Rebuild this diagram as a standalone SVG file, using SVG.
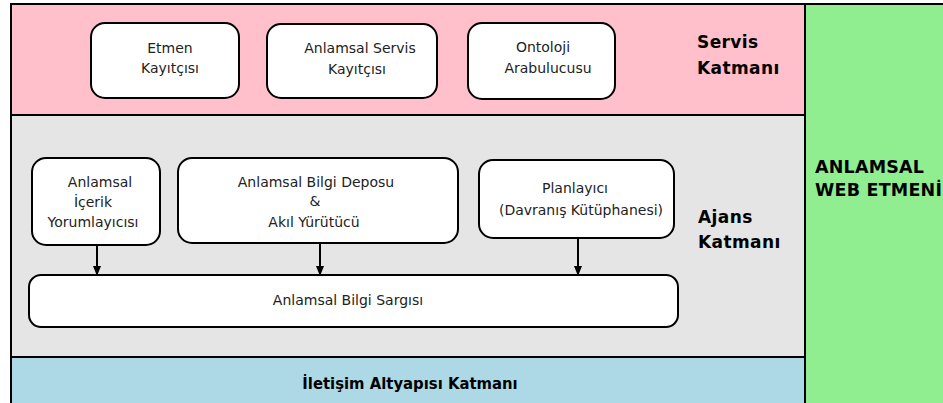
<svg xmlns="http://www.w3.org/2000/svg" width="943" height="403" viewBox="0 0 943 403">
<defs>
<style>
.box{fill:#fff;stroke:#000;stroke-width:2}
.t{font-family:"DejaVu Sans","Verdana",sans-serif;font-size:14px;fill:#222;text-anchor:middle}
.b{font-family:"DejaVu Sans","Verdana",sans-serif;font-size:17px;font-weight:bold;fill:#000;letter-spacing:0.4px}
.c{stroke:#000;stroke-width:2;fill:none}
</style>
<marker id="ah" markerWidth="10" markerHeight="10" refX="9" refY="5" orient="auto" markerUnits="userSpaceOnUse">
<path d="M0,1 L10,5 L0,9 Z" fill="#000"/>
</marker>
</defs>
<rect x="0" y="0" width="943" height="403" fill="#fff"/>
<g id="servis-katmani">
<rect x="10" y="3" width="795" height="112" fill="#FFC0CB"/>
<text class="b" x="697" y="48">Servis</text>
<text class="b" x="697" y="74">Katmanı</text>
</g>
<g id="ajans-katmani">
<rect x="10" y="115" width="795" height="242" fill="#E5E5E5"/>
<text class="b" x="698" y="223">Ajans</text>
<text class="b" x="698" y="248">Katmanı</text>
</g>
<g id="iletisim-katmani">
<rect x="10" y="357" width="795" height="46" fill="#ADD8E6"/>
<text x="410" y="389" text-anchor="middle" style="font-family:'DejaVu Sans Condensed','DejaVu Sans',sans-serif;font-size:16.5px;font-weight:bold;fill:#000">İletişim Altyapısı Katmanı</text>
</g>
<g id="web-etmeni">
<rect x="805" y="3" width="138" height="400" fill="#90EE90"/>
<text class="b" x="815" y="173" style="font-size:17.5px;letter-spacing:0.2px">ANLAMSAL</text>
<text class="b" x="815" y="196" style="font-size:17.5px;letter-spacing:0.2px">WEB ETMENİ</text>
</g>
<g id="frame" fill="none" stroke="#000" stroke-width="2">
<line x1="10" y1="4" x2="943" y2="4"/>
<line x1="11" y1="3" x2="11" y2="403"/>
<line x1="805" y1="3" x2="805" y2="403"/>
<line x1="10" y1="115" x2="805" y2="115"/>
<line x1="10" y1="357" x2="805" y2="357"/>
</g>
<g id="etmen-kayitcisi">
<rect class="box" x="91" y="23" width="148" height="75" rx="14"/>
<text class="t" x="170" y="53">Etmen</text>
<text class="t" x="170" y="73">Kayıtçısı</text>
</g>
<g id="anlamsal-servis-kayitcisi">
<rect class="box" x="267" y="24" width="170" height="74" rx="14"/>
<text class="t" x="360" y="53">Anlamsal Servis</text>
<text class="t" x="357" y="74">Kayıtçısı</text>
</g>
<g id="ontoloji-arabulucusu">
<rect class="box" x="468" y="23" width="147" height="76" rx="14"/>
<text class="t" x="543" y="52">Ontoloji</text>
<text class="t" x="548" y="73">Arabulucusu</text>
</g>
<g id="icerik-yorumlayicisi">
<rect class="box" x="32" y="158" width="128" height="87" rx="14"/>
<text class="t" x="100" y="187">Anlamsal</text>
<text class="t" x="93" y="207">İçerik</text>
<text class="t" x="93" y="227">Yorumlayıcısı</text>
</g>
<g id="bilgi-deposu">
<rect class="box" x="178" y="158" width="280" height="85" rx="14"/>
<text class="t" x="316" y="187">Anlamsal Bilgi Deposu</text>
<text class="t" x="315" y="206">&amp;</text>
<text class="t" x="314" y="227">Akıl Yürütücü</text>
</g>
<g id="planlayici">
<rect class="box" x="479" y="160" width="195" height="78" rx="14"/>
<text class="t" x="575" y="193">Planlayıcı</text>
<text class="t" x="581" y="215">(Davranış Kütüphanesi)</text>
</g>
<g id="bilgi-sargisi">
<rect class="box" x="29" y="275" width="649" height="52" rx="12"/>
<text class="t" x="348" y="305">Anlamsal Bilgi Sargısı</text>
</g>
<g id="connectors">
<line class="c" x1="97" y1="245" x2="97" y2="275" marker-end="url(#ah)"/>
<line class="c" x1="320" y1="243" x2="320" y2="275" marker-end="url(#ah)"/>
<line class="c" x1="578" y1="238" x2="578" y2="275" marker-end="url(#ah)"/>
</g>
</svg>
